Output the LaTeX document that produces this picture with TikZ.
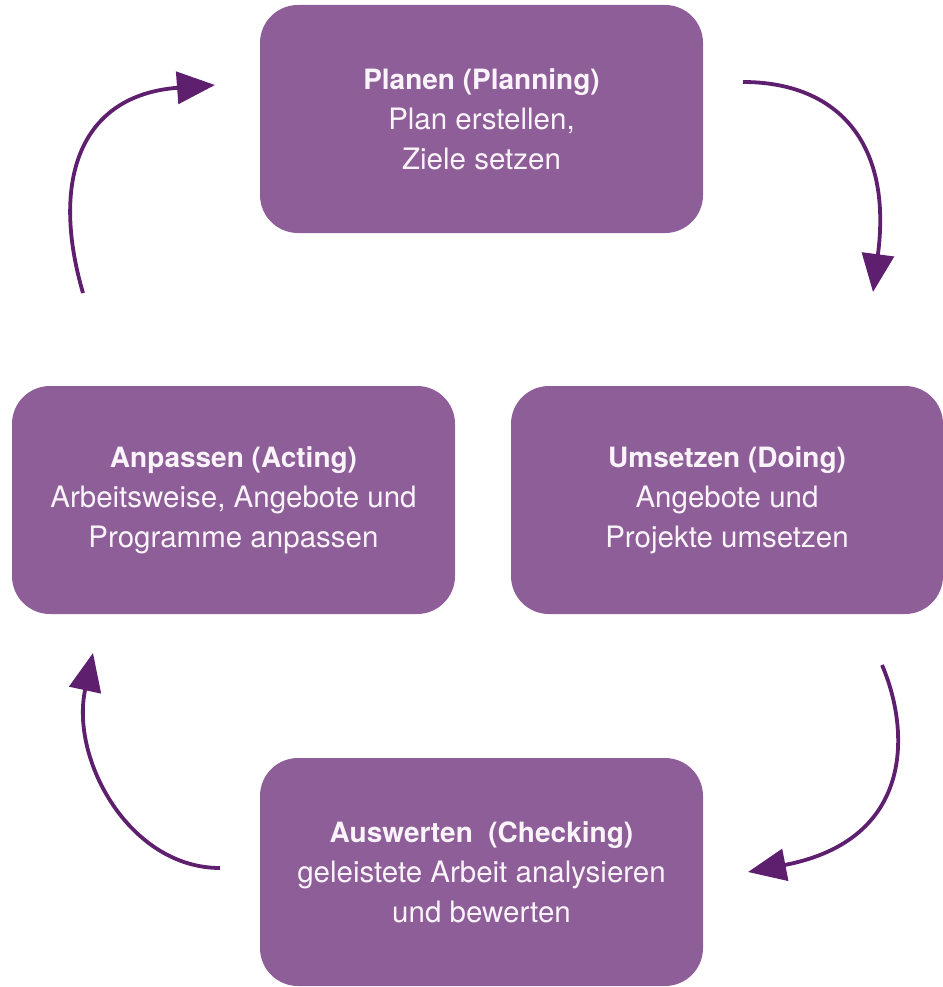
\documentclass[tikz,border=0pt]{standalone}
\usepackage{fontspec}
\setmainfont{TeX Gyre Heros}
\usetikzlibrary{arrows.meta}
\definecolor{boxpurple}{HTML}{8D5E98}
\definecolor{arrowpurple}{HTML}{5F1F6F}
\definecolor{boxtext}{HTML}{FAF4FA}
\newcommand{\headline}[1]{{\fontsize{28}{40}\selectfont\bfseries #1}}
\tikzset{
  phase/.style={draw=none, fill=boxpurple, rounded corners=38pt,
    minimum width=443pt, minimum height=228pt, inner sep=0pt,
    align=center, text=boxtext,
    font=\fontsize{29.5}{40}\selectfont},
  cyclearrow/.style={draw=arrowpurple, line width=3.8pt,
    -{Triangle[length=38pt,width=32pt]}}
}
\begin{document}
\begin{tikzpicture}[x=1pt,y=-1pt]
\useasboundingbox (0,0) rectangle (942,987);
\node[phase] (plan) at (481.5,119) {\headline{Planen (Planning)}\\Plan erstellen,\\Ziele setzen};
\node[phase] (act) at (233.5,500) {\headline{Anpassen (Acting)}\\Arbeitsweise, Angebote und\\Programme anpassen};
\node[phase] (do) at (727,500) [minimum width=432pt] {\headline{Umsetzen (Doing)}\\Angebote und\\Projekte umsetzen};
\node[phase] (check) at (481.5,872) {\headline{Auswerten\ \ (Checking)}\\geleistete Arbeit analysieren\\und bewerten};
\coordinate (a1s) at (743,82);
\coordinate (a1e) at (873,292);
\coordinate (a2s) at (882,665);
\coordinate (a2e) at (748,872);
\coordinate (a3s) at (220,868);
\coordinate (a3e) at (93,653);
\coordinate (a4s) at (83,293);
\coordinate (a4e) at (215,85);
\draw[cyclearrow] (a1s) .. controls (835,82) and (893,140) .. (a1e);
\draw[cyclearrow] (a2s) .. controls (910,730) and (915,840) .. (a2e);
\draw[cyclearrow] (a3s) .. controls (130,868) and (70,760) .. (a3e);
\draw[cyclearrow] (a4s) .. controls (50,180) and (80,95) .. (a4e);
\end{tikzpicture}
\end{document}
